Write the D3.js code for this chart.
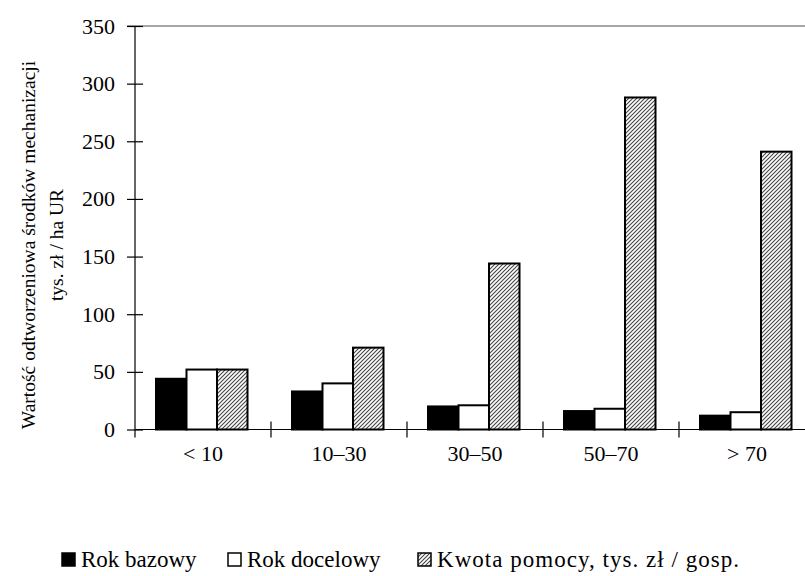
<!DOCTYPE html>
<html>
<head>
<meta charset="utf-8">
<script src="https://cdn.jsdelivr.net/npm/d3@7"></script>
<style>
  html, body { margin: 0; padding: 0; background: #fff; }
  svg { display: block; }
</style>
</head>
<body>
<svg id="chart" width="805" height="576"></svg>
<script>
const categories = ["< 10", "10–30", "30–50", "50–70", "> 70"];
const seriesNames = ["Rok bazowy", "Rok docelowy", "Kwota pomocy, tys. zł / gosp."];
const rokBazowy = [44, 33, 20, 16, 12];
const rokDocelowy = [52, 40, 21, 18, 15];
const kwotaPomocy = [52, 71, 144, 288, 241];
const yTicks = [0, 50, 100, 150, 200, 250, 300, 350];
const yTitle1 = "Wartość odtworzeniowa środków mechanizacji";
const yTitle2 = "tys. zł / ha UR";

const FONT = "'Liberation Serif', 'Times New Roman', serif";
const seriesValues = [rokBazowy, rokDocelowy, kwotaPomocy];
const svg = d3.select("#chart").attr("font-family", FONT);

const defs = svg.append("defs");
const pat = defs.append("pattern")
  .attr("id", "hatch")
  .attr("patternUnits", "userSpaceOnUse")
  .attr("width", 4).attr("height", 4);
pat.append("rect").attr("width", 4).attr("height", 4).attr("fill", "#fff");
pat.append("path")
  .attr("d", "M-1,1 l2,-2 M0,4 l4,-4 M3,5 l2,-2")
  .attr("stroke", "#444").attr("stroke-width", 1.1);

const fills = ["#000", "#fff", "url(#hatch)"];

const x0 = d3.scaleBand().domain(categories).range([135, 815]);
const x1 = d3.scaleBand().domain(d3.range(3)).range([21, 112.5]);
const y = d3.scaleLinear().domain([0, 350]).range([429.5, 26]);

// top border line
svg.append("line")
  .attr("x1", 127).attr("x2", 805)
  .attr("y1", y(350)).attr("y2", y(350))
  .attr("stroke", "#888").attr("stroke-width", 1.5);

// bars
const groups = svg.append("g").selectAll("g")
  .data(categories)
  .join("g")
  .attr("transform", d => `translate(${x0(d)},0)`);

groups.selectAll("rect")
  .data((d, i) => seriesValues.map((s, k) => ({k, v: s[i]})))
  .join("rect")
  .attr("x", d => x1(d.k))
  .attr("width", x1.bandwidth())
  .attr("y", d => y(d.v))
  .attr("height", d => y(0) - y(d.v))
  .attr("fill", d => fills[d.k])
  .attr("stroke", "#000")
  .attr("stroke-width", 2);

// y axis
const yAxis = svg.append("g")
  .attr("transform", "translate(135,0)")
  .call(d3.axisLeft(y).tickValues(yTicks).tickSize(8).tickPadding(12).tickSizeOuter(0));
yAxis.attr("font-family", FONT).attr("font-size", 22);
yAxis.select(".domain").remove();
yAxis.selectAll(".tick line").attr("x1", 8).attr("stroke", "#000").attr("stroke-width", 1.2);
yAxis.selectAll(".tick text")
  .attr("font-family", FONT)
  .attr("font-size", 22)
  .attr("fill", "#000");
svg.append("line")
  .attr("x1", 135).attr("x2", 135)
  .attr("y1", y(350)).attr("y2", y(0) + 8)
  .attr("stroke", "#000").attr("stroke-width", 1.2);

// x axis
svg.append("line")
  .attr("x1", 135).attr("x2", 815)
  .attr("y1", y(0)).attr("y2", y(0))
  .attr("stroke", "#000").attr("stroke-width", 1.2);
const boundaries = categories.map(c => x0(c)).concat([x0.range()[1]]);
svg.append("g").selectAll("line")
  .data(boundaries.slice(1))
  .join("line")
  .attr("x1", d => d).attr("x2", d => d)
  .attr("y1", y(0) - 8).attr("y2", y(0) + 8)
  .attr("stroke", "#000").attr("stroke-width", 1.2);

svg.append("g").selectAll("text")
  .data(categories)
  .join("text")
  .attr("x", d => x0(d) + x0.bandwidth() / 2)
  .attr("y", 461)
  .attr("text-anchor", "middle")
  .attr("font-family", FONT)
  .attr("font-size", 22)
  .text(d => d);

// y title
const tcy = 245;
svg.append("text")
  .attr("transform", `translate(35,${tcy}) rotate(-90)`)
  .attr("text-anchor", "middle")
  .attr("font-family", FONT)
  .attr("font-size", 19.5)
  .text(yTitle1);
svg.append("text")
  .attr("transform", `translate(63,${tcy}) rotate(-90)`)
  .attr("text-anchor", "middle")
  .attr("font-family", FONT)
  .attr("font-size", 19.5)
  .text(yTitle2);

// legend
const legX = [62, 228, 418];
const leg = svg.append("g").selectAll("g")
  .data(seriesNames)
  .join("g")
  .attr("transform", (d, i) => `translate(${legX[i]},553)`);
leg.append("rect")
  .attr("width", 13).attr("height", 13)
  .attr("fill", (d, i) => fills[i])
  .attr("stroke", "#000").attr("stroke-width", 1.5);
leg.append("text")
  .attr("x", 19).attr("y", 14)
  .attr("font-family", FONT)
  .attr("font-size", 23)
  .attr("textLength", (d, i) => i === 2 ? 302 : null)
  .attr("lengthAdjust", "spacing")
  .text(d => d);
</script>
</body>
</html>
